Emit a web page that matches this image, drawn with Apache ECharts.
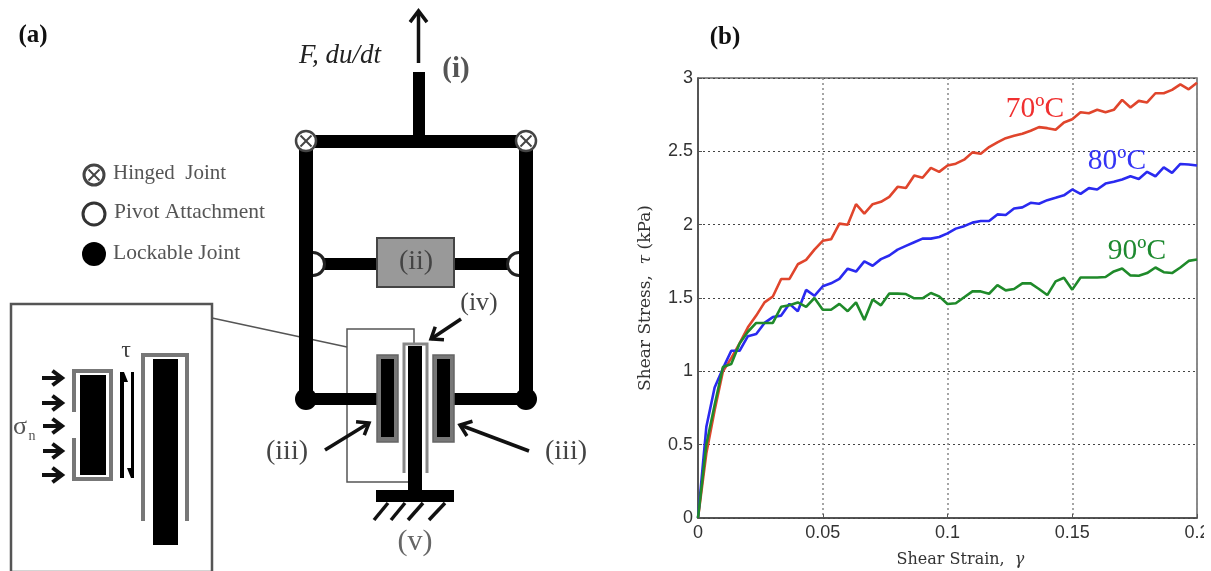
<!DOCTYPE html>
<html><head><meta charset="utf-8">
<style>html,body{margin:0;padding:0;background:#fff}#c{width:1211px;height:571px;filter:blur(0.6px)}</style>
<script src="https://cdn.jsdelivr.net/npm/echarts@6/dist/echarts.min.js"></script>
</head><body><div id="c"></div>
<script>
// Shear strain sampled every 1/300
const strainStep = 1 / 300;
const stress70 = [0,0.44,0.735,1.0,1.09,1.19,1.30,1.38,1.47,1.51,1.63,1.63,1.73,1.76,1.83,1.89,1.90,2.007,2.0,2.14,2.075,2.14,2.156,2.19,2.258,2.25,2.335,2.32,2.387,2.36,2.403,2.416,2.443,2.493,2.484,2.529,2.561,2.59,2.606,2.62,2.64,2.665,2.658,2.647,2.697,2.719,2.767,2.76,2.783,2.767,2.783,2.851,2.799,2.844,2.833,2.896,2.896,2.919,2.957,2.923,2.968];
const stress80 = [0,0.62,0.89,1.02,1.14,1.14,1.24,1.255,1.33,1.37,1.38,1.46,1.41,1.555,1.515,1.58,1.60,1.63,1.70,1.68,1.75,1.72,1.765,1.79,1.83,1.855,1.88,1.905,1.905,1.916,1.941,1.973,1.99,2.014,2.025,2.025,2.07,2.066,2.11,2.118,2.149,2.143,2.167,2.183,2.2,2.24,2.21,2.249,2.24,2.28,2.292,2.308,2.33,2.312,2.36,2.33,2.391,2.353,2.414,2.41,2.403];
const stress90 = [0,0.5,0.77,1.03,1.05,1.19,1.27,1.33,1.33,1.33,1.44,1.45,1.47,1.44,1.50,1.42,1.42,1.46,1.41,1.47,1.35,1.49,1.45,1.53,1.53,1.527,1.498,1.498,1.534,1.511,1.459,1.464,1.505,1.545,1.545,1.529,1.588,1.552,1.561,1.600,1.600,1.561,1.520,1.613,1.638,1.557,1.640,1.640,1.640,1.643,1.681,1.701,1.654,1.652,1.670,1.708,1.676,1.670,1.708,1.753,1.762];
const xTicks = {0:'0',0.05:'0.05',0.1:'0.1',0.15:'0.15',0.2:'0.2'};
const toPairs = a => a.map((v,i)=>[i*strainStep,v]);

const K='#000', G='#777', SERIF='"Liberation Serif"';
const rect=(x,y,w,h,fill,stroke,lw,z)=>({type:'rect',shape:{x,y,width:w,height:h},style:{fill:fill||'transparent',stroke:stroke||null,lineWidth:lw||0},z:z||1,silent:true});
const line=(x1,y1,x2,y2,stroke,lw,z)=>({type:'line',shape:{x1,y1,x2,y2},style:{stroke,lineWidth:lw},z:z||1,silent:true});
const poly=(points,stroke,lw,z)=>({type:'polyline',shape:{points},style:{stroke,lineWidth:lw,fill:null},z:z||1,silent:true});
const circ=(cx,cy,r,fill,stroke,lw,z)=>({type:'circle',shape:{cx,cy,r},style:{fill,stroke,lineWidth:lw},z:z||1,silent:true});
const text=(x,y,t,size,o)=>({type:'text',x,y,z:5,silent:true,style:Object.assign({text:t,font:`${size}px ${SERIF}`,fill:'#444',textAlign:'center',textVerticalAlign:'middle'},o||{})});
function arrow(x1,y1,x2,y2,lw,head){
  const a=Math.atan2(y2-y1,x2-x1), h=head||10, s=0.65;
  return [line(x1,y1,x2,y2,'#111',lw,4),
    poly([[x2-h*Math.cos(a-s),y2-h*Math.sin(a-s)],[x2,y2],[x2-h*Math.cos(a+s),y2-h*Math.sin(a+s)]],'#111',lw,4)];
}
function hinge(cx,cy,r,lw){
  const d=r*0.55;
  return [circ(cx,cy,r,'#fff','#444',lw||2.5,3),line(cx-d,cy-d,cx+d,cy+d,'#444',2,3),line(cx-d,cy+d,cx+d,cy-d,'#444',2,3)];
}
const diagram=[
  // top structure
  ...arrow(418.5,63,418.5,11,3.5,14),
  rect(413,72,12,66,K),
  rect(306,135,220,13,K),
  rect(299,141,14,258,K,null,0,2),
  rect(519,141,14,258,K,null,0,2),
  ...hinge(306,141,10),...hinge(526,141,10),
  // damper
  rect(313,258,206,12,K),
  circ(313,264,11.5,'#fff','#222',3,1),circ(519,264,11.5,'#fff','#222',3,1),
  rect(377,238,77,49,'#999','#444',2,2),
  // clamp frame
  rect(306,393,74,12,K,null,0,2),
  rect(450,393,76,12,K,null,0,2),
  circ(306,399,11,K,K,0,3),circ(526,399,11,K,K,0,3),
  // link to inset
  line(212,318,347,347,'#555',1.5,1),
  poly([[414,345],[414,329],[347,329],[347,482],[408,482]],'#555',1.5,1),
  // plates
  rect(377,355,21,87,'#777','#666',1.5,2),
  rect(381,359,13,78,K,null,0,3),
  rect(433,355,21,87,'#777','#666',1.5,2),
  rect(437,359,13,78,K,null,0,3),
  poly([[404,473],[404,344],[427,344],[427,473]],'#888',3,2),
  rect(408,346,14,146,K,null,0,3),
  rect(376,490,78,12,K,null,0,3),
  line(388,503,374,520,'#111',3.5),line(405,503,391,520,'#111',3.5),line(423,503,408,520,'#111',3.5),line(445,503,429,520,'#111',3.5),
  ...arrow(461,319,431,339,3.5,13),
  ...arrow(325,450,369,423,3.5,13),
  ...arrow(529,451,460,425,3.5,13),
  // legend symbols
  ...hinge(94,175,10,3),
  circ(94,214,11,'#fff','#333',3,3),
  circ(94,254,12,K,K,0,3),
  // inset
  rect(11,304,201,268,'#fff','#555',2.5,1),
  poly([[143,521],[143,355],[187,355],[187,521]],'#777',4,2),
  rect(153,359,25,186,K,null,0,3),
  poly([[74,412],[74,371],[111,371],[111,479],[74,479],[74,438]],'#777',4,2),
  rect(80,375,26,100,K,null,0,3),
  rect(120,372,4,106,K,null,0,3),rect(131,372,3,106,K,null,0,3),
  {type:'polygon',shape:{points:[[124,372],[128,382],[124,382]]},style:{fill:K},z:3,silent:true},
  {type:'polygon',shape:{points:[[131,478],[127,468],[131,468]]},style:{fill:K},z:3,silent:true},
  ...arrow(42,378,62,378,4,12),...arrow(42,403,62,403,4,12),...arrow(43,426,62,426,4,12),...arrow(43,451,62,451,4,12),...arrow(42,475,62,475,4,12),
  // labels
  text(33,36,'(a)',25,{font:`bold 25px ${SERIF}`,fill:'#111'}),
  text(725,38,'(b)',25,{font:`bold 25px ${SERIF}`,fill:'#111'}),
  text(340,56,'F, du/dt',27,{font:`italic 27px ${SERIF}`,fill:'#222'}),
  text(456,70,'(i)',29,{font:`bold 29px ${SERIF}`,fill:'#555'}),
  text(416,262,'(ii)',28),
  text(479,303,'(iv)',26),
  text(287,452,'(iii)',28),
  text(566,452,'(iii)',28),
  text(415,542,'(v)',30,{fill:'#666'}),
  text(113,173,'Hinged  Joint',21,{textAlign:'left',fill:'#555'}),
  text(114,212,'Pivot Attachment',21.5,{textAlign:'left',fill:'#555'}),
  text(113,253,'Lockable Joint',21.5,{textAlign:'left',fill:'#555'}),
  text(126,351,'τ',24,{fill:'#444'}),
  text(20,427,'σ',26,{fill:'#555'}),
  text(32,436,'n',14,{fill:'#555'}),
  // curve names
  text(1035,109,'70ºC',29.5,{fill:'#f03030'}),
  text(1117,161,'80ºC',29.5,{fill:'#3535f5'}),
  text(1137,251,'90ºC',29.5,{fill:'#1e8a30'}),
  // the reference photo ends just after the last tick label starts
  rect(1204,520,7,30,'#fff',null,0,100)
];

const axisText={color:'#333',fontFamily:'Liberation Sans',fontSize:18};
const chart=echarts.init(document.getElementById('c'),null,{renderer:'canvas'});
chart.setOption({
  animation:false,backgroundColor:'#fff',
  grid:{left:698,top:78,width:499,height:440,show:true,borderColor:'#666',borderWidth:1.5,containLabel:false,outerBoundsMode:'none'},
  xAxis:{type:'value',min:0,max:0.2,interval:0.05,
    name:'Shear Strain,  {g|γ}',nameLocation:'middle',nameGap:34,
    nameTextStyle:{color:'#333',fontFamily:'DejaVu Serif',fontSize:16,padding:[0,0,0,26],rich:{g:{fontFamily:'DejaVu Serif',fontStyle:'italic',fontSize:16,color:'#333'}}},
    axisLine:{show:true,onZero:false,lineStyle:{color:'#444',width:1.5}},axisTick:{show:true,inside:true,length:4,lineStyle:{color:'#555'}},
    axisLabel:Object.assign({},axisText,{margin:6,showMinLabel:true,showMaxLabel:true,hideOverlap:false,formatter:v=>xTicks[v]!==undefined?xTicks[v]:String(v)}),
    splitLine:{show:true,lineStyle:{color:'#888',width:1.5,type:[2,3]}}},
  yAxis:{type:'value',min:0,max:3,interval:0.5,
    name:'Shear Stress,  {g|τ} (kPa)',nameLocation:'middle',nameGap:44,
    nameTextStyle:{color:'#333',fontFamily:'DejaVu Serif',fontSize:17,rich:{g:{fontFamily:'DejaVu Serif',fontStyle:'italic',fontSize:17,color:'#333'}}},
    axisLine:{show:true,onZero:false,lineStyle:{color:'#444',width:1.5}},axisTick:{show:true,inside:true,length:4,lineStyle:{color:'#555'}},
    axisLabel:Object.assign({},axisText,{margin:5,showMinLabel:true,showMaxLabel:true}),
    splitLine:{show:true,lineStyle:{color:'#444',width:1,type:[2,3]}}},
  series:[
    {name:'70ºC',type:'line',data:toPairs(stress70),symbol:'none',lineStyle:{color:'#e0452c',width:2.6},itemStyle:{color:'#e0452c'},z:3},
    {name:'80ºC',type:'line',data:toPairs(stress80),symbol:'none',lineStyle:{color:'#2a2af0',width:2.6},itemStyle:{color:'#2a2af0'},z:4},
    {name:'90ºC',type:'line',data:toPairs(stress90),symbol:'none',lineStyle:{color:'#1f8a2a',width:2.6},itemStyle:{color:'#1f8a2a'},z:5}
  ],
  graphic:{elements:diagram}
});
</script></body></html>
